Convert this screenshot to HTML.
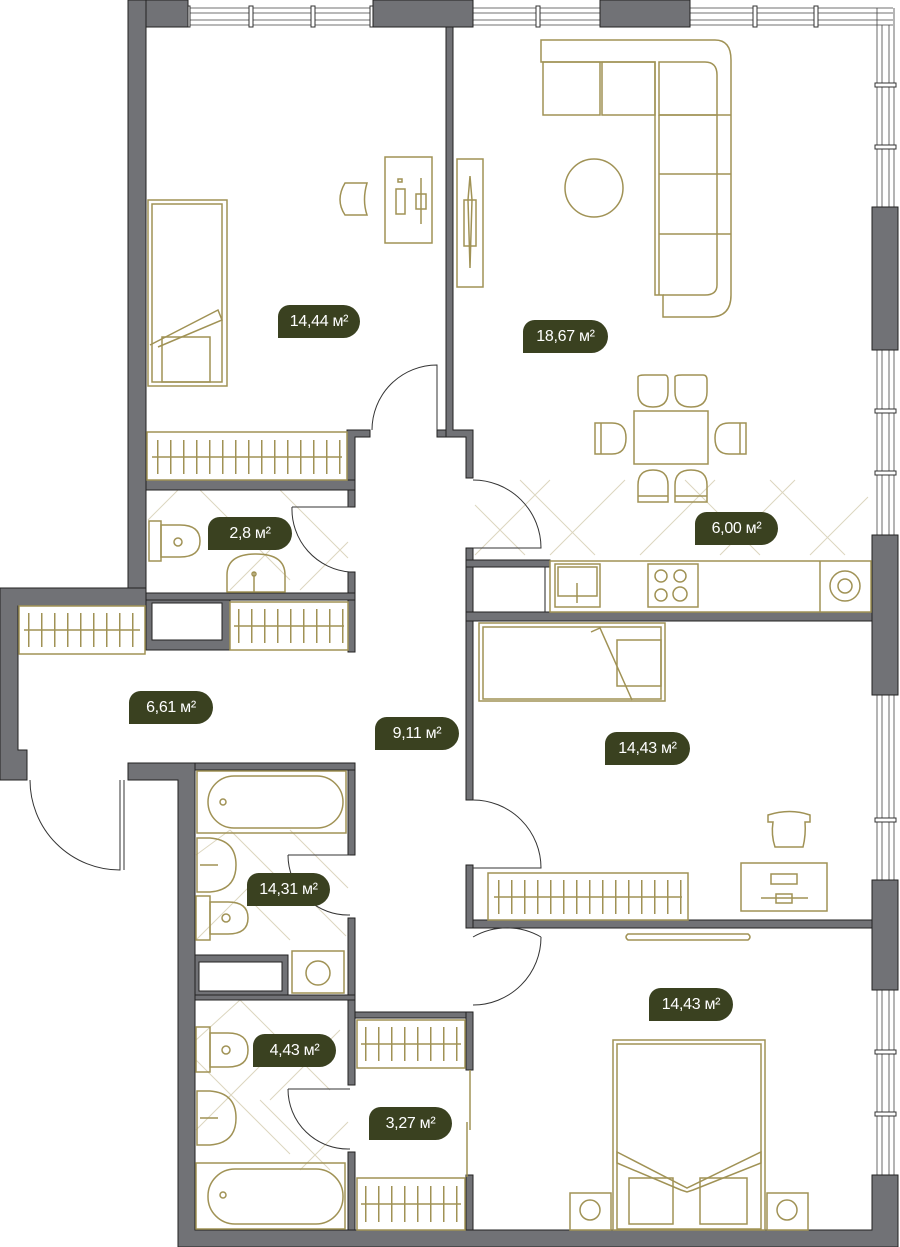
<!DOCTYPE html>
<html><head><meta charset="utf-8"><style>
html,body{margin:0;padding:0;background:#fff;}
#w{position:relative;width:900px;height:1247px;overflow:hidden;background:#fff;}
svg{position:absolute;left:0;top:0;}
.l{position:absolute;height:33px;background:#3a4120;color:#fff;font-family:"Liberation Sans",sans-serif;font-size:16px;line-height:33px;text-align:center;border-radius:12px 17px 17px 0;letter-spacing:-0.3px;}
</style></head><body><div id="w">
<svg width="900" height="1247" viewBox="0 0 900 1247">
<!-- tile diagonals -->
<g stroke="#dcd6bf" stroke-width="1" fill="none">
<path d="M475 555 L550 480 M520 480 L595 555 M550 555 L625 480 M640 555 L715 480 M685 480 L760 555 M720 555 L795 480 M770 480 L845 555 M810 555 L868 497 M475 505 L525 555"/>
<path d="M148 520 L178 490 M200 490 L290 580 M230 590 L290 530 M280 490 L348 558 M300 590 L348 542"/>
<path d="M196 855 L230 830 M230 830 L290 890 M290 830 L348 888 M196 940 L250 886 M250 900 L290 940 M310 900 L346 936"/>
<path d="M196 1040 L240 1000 M240 1000 L330 1090 M270 1100 L340 1030 M196 1130 L260 1066 M260 1100 L330 1170 M300 1170 L348 1122 M196 1060 L290 1154"/>
</g>
<!-- windows -->
<g stroke="#444" stroke-width="0.8" fill="none">
<path d="M188 8 H373 M188 13 H373 M188 20 H373 M188 25 H373"/>
<path d="M473 8 H600 M473 13 H600 M473 20 H600 M473 25 H600"/>
<path d="M690 8 H893 M690 13 H893 M690 20 H893 M690 25 H893"/>
<path d="M877 8 V1247 M882 25 V1247 M889 25 V1247 M894 8 V1247"/>
</g>
<g fill="#fff" stroke="#333" stroke-width="1">
<rect x="186" y="6" width="4" height="21"/><rect x="249" y="6" width="4" height="21"/><rect x="311" y="6" width="4" height="21"/><rect x="370" y="6" width="4" height="21"/>
<rect x="536" y="6" width="4" height="21"/><rect x="753" y="6" width="4" height="21"/><rect x="814" y="6" width="4" height="21"/>
<rect x="875" y="83" width="21" height="4"/><rect x="875" y="145" width="21" height="4"/><rect x="875" y="409" width="21" height="4"/><rect x="875" y="471" width="21" height="4"/>
<rect x="875" y="818" width="21" height="4"/><rect x="875" y="1050" width="21" height="4"/><rect x="875" y="1112" width="21" height="4"/>
</g>
<!-- walls -->
<g fill="#717276" stroke="#222" stroke-width="1">
<rect x="128" y="0" width="60" height="27"/>
<rect x="128" y="0" width="18" height="606"/>
<rect x="373" y="0" width="100" height="27"/>
<rect x="600" y="0" width="90" height="27"/>
<path d="M446 27 H453 V430 H473 V478 H466 V437 H446 Z"/>
<path d="M347 430 H370 V437 H355 V487 H347 Z"/>
<rect x="437" y="430" width="9" height="7"/>
<rect x="146" y="480" width="209" height="10"/>
<rect x="348" y="490" width="7" height="17"/>
<rect x="348" y="572" width="7" height="80"/>
<rect x="146" y="593" width="209" height="7"/>
<path d="M146 600 H230 V650 H146 Z M152 603 V640 H222 V603 Z" fill-rule="evenodd"/>
<path d="M0 588 H146 V606 H18 V750 H27 V780 H0 Z"/>
<path d="M128 763 H195 V1230 H872 V1175 H898 V1247 H178 V780 H128 Z"/>
<rect x="195" y="763" width="160" height="7"/>
<rect x="348" y="770" width="7" height="85"/>
<rect x="348" y="918" width="7" height="82"/>
<path d="M195 955 H288 V996 H195 Z M199 962 V991 H282 V962 Z" fill-rule="evenodd"/>
<rect x="195" y="995" width="160" height="5"/>
<rect x="348" y="1000" width="7" height="85"/>
<rect x="348" y="1152" width="7" height="78"/>
<rect x="355" y="1012" width="118" height="6"/>
<rect x="466" y="1012" width="7" height="58"/>
<rect x="466" y="1175" width="7" height="55"/>
<rect x="466" y="548" width="7" height="252"/>
<rect x="466" y="560" width="84" height="7"/>
<rect x="466" y="612" width="406" height="9"/>
<rect x="466" y="865" width="7" height="63"/>
<rect x="473" y="920" width="399" height="8"/>
<rect x="872" y="207" width="26" height="143"/>
<rect x="872" y="535" width="26" height="160"/>
<rect x="872" y="880" width="26" height="110"/>
</g>
<rect x="473" y="567" width="72" height="45" fill="#fff" stroke="#222"/>
<!-- doors -->
<g stroke="#333" stroke-width="1" fill="none">
<path d="M372 430 A65 65 0 0 1 437 365 V430"/>
<path d="M473 480 A68 68 0 0 1 541 548 H473"/>
<path d="M292 507 H350 M292 507 A63 63 0 0 0 350 572"/>
<path d="M30 780 A90 90 0 0 0 120 870 V780 M124 780 V870"/>
<path d="M473 800 A68 68 0 0 1 541 868 H473"/>
<path d="M473 937 A68 68 0 0 1 541 937 M541 937 A68 68 0 0 1 473 1005"/>
<path d="M288 855 H350 M288 855 A60 60 0 0 0 350 915"/>
<path d="M288 1089 H350 M288 1089 A60 60 0 0 0 350 1149"/>
</g>
<!-- wardrobes slats -->
<g stroke="#a09255" stroke-dasharray="1.5 11.5" fill="none">
<line x1="157" y1="457" x2="342" y2="457" stroke-width="34"/>
<line x1="28" y1="630" x2="140" y2="630" stroke-width="34"/>
<line x1="238" y1="626" x2="344" y2="626" stroke-width="34"/>
<line x1="498" y1="897" x2="682" y2="897" stroke-width="34"/>
<line x1="365" y1="1044" x2="461" y2="1044" stroke-width="34"/>
<line x1="365" y1="1204" x2="461" y2="1204" stroke-width="36"/>
</g>
<!-- furniture -->
<g stroke="#a09255" stroke-width="1.5" fill="none">
<rect x="147" y="432" width="200" height="48"/><line x1="152" y1="457" x2="342" y2="457"/>
<rect x="19" y="606" width="126" height="48"/><line x1="24" y1="630" x2="140" y2="630"/>
<rect x="230" y="602" width="118" height="48"/><line x1="234" y1="626" x2="344" y2="626"/>
<rect x="488" y="873" width="200" height="47"/><line x1="494" y1="897" x2="682" y2="897"/>
<rect x="357" y="1020" width="108" height="48"/><line x1="361" y1="1044" x2="461" y2="1044"/>
<rect x="357" y="1178" width="108" height="52"/><line x1="361" y1="1204" x2="461" y2="1204"/>
<line x1="470" y1="1070" x2="470" y2="1130"/><line x1="467" y1="1122" x2="467" y2="1177"/>
<!-- bedroom 1 -->
<rect x="148" y="200" width="79" height="186"/><rect x="152" y="204" width="70" height="178"/>
<path d="M150 345 L218 310 L222 320 L158 347"/><rect x="162" y="337" width="48" height="45"/>
<rect x="385" y="157" width="47" height="86"/><rect x="396" y="189" width="9" height="25"/><rect x="398" y="179" width="4" height="3"/><line x1="421" y1="178" x2="421" y2="224"/><rect x="416" y="194" width="10" height="15"/>
<path d="M345 183 Q335 200 345 215 L367 215 Q362 200 367 183 Z"/>
<!-- living -->
<rect x="457" y="159" width="26" height="128"/><path d="M470 176 L472 200 L470 268 L468 200 Z"/><rect x="464" y="200" width="12" height="46"/>
<path d="M541 40 H715 Q731 40 731 60 V295 Q731 317 710 317 H663 V295 H655 V62 H541 Z"/>
<path d="M543 62 H600 V115 H543 Z M602 62 H655 V115 H602 Z M659 62 H705 Q717 62 717 75 V115 H659 Z"/>
<path d="M659 115 H731 M659 174 H731 M659 234 H731 M717 115 V285 Q717 295 705 295 H663 M659 115 V295"/>
<circle cx="594" cy="188" r="29"/>
<rect x="634" y="411" width="74" height="53"/>
<path d="M638 377 Q638 375 645 375 H665 Q668 375 668 380 V392 Q668 407 653 407 Q638 407 638 392 Z"/>
<path d="M675 377 Q675 375 682 375 H703 Q707 375 707 380 V392 Q707 407 691 407 Q675 407 675 392 Z"/>
<path d="M638 502 V485 Q638 470 653 470 Q668 470 668 485 V502 Z M638 496 H668"/>
<path d="M675 502 V485 Q675 470 691 470 Q707 470 707 485 V502 Z M675 496 H707"/>
<path d="M595 423 H612 Q626 423 626 438 Q626 454 612 454 H595 Z M601 423 V454"/>
<path d="M746 423 H729 Q715 423 715 438 Q715 454 729 454 H746 Z M740 423 V454"/>
<!-- kitchen -->
<rect x="550" y="561" width="321" height="51"/><line x1="820" y1="561" x2="820" y2="612"/>
<rect x="555" y="564" width="45" height="43"/><rect x="558" y="567" width="39" height="29"/><line x1="577" y1="583" x2="577" y2="603"/>
<rect x="648" y="564" width="50" height="43"/><circle cx="661" cy="576" r="6"/><circle cx="680" cy="576" r="6"/><circle cx="661" cy="595" r="6"/><circle cx="680" cy="594" r="7"/>
<circle cx="845" cy="586" r="15"/><circle cx="845" cy="586" r="7"/>
<!-- bedroom 2 -->
<rect x="479" y="623" width="186" height="78"/><rect x="483" y="627" width="178" height="72"/>
<path d="M591 632 L600 628 L632 700"/><rect x="617" y="640" width="44" height="46"/>
<rect x="741" y="863" width="86" height="48"/><rect x="771" y="874" width="26" height="10"/><line x1="761" y1="898" x2="808" y2="898"/><rect x="776" y="894" width="16" height="9"/>
<path d="M768 815 Q790 808 810 815 V822 L805 822 Q806 835 803 847 H775 Q771 835 773 822 L768 822 Z"/>
<path d="M628 934 H748 Q752 937 748 940 H628 Q624 937 628 934 Z"/>
<!-- bedroom 3 -->
<rect x="613" y="1040" width="152" height="190"/><rect x="617" y="1044" width="144" height="185"/>
<path d="M617 1152 L687 1188 L761 1152 L761 1163 L693 1190 L687 1192 L681 1190 L617 1163 Z"/>
<rect x="629" y="1178" width="44" height="46"/><rect x="700" y="1178" width="47" height="46"/>
<rect x="570" y="1193" width="41" height="37"/><circle cx="590" cy="1210" r="10"/>
<rect x="767" y="1193" width="41" height="37"/><circle cx="787" cy="1210" r="10"/>
<!-- wc 2.8 -->
<rect x="149" y="521" width="12" height="40"/><path d="M161 525 H180 Q200 525 200 541 Q200 557 180 557 H161 Z"/><circle cx="178" cy="542" r="4"/>
<path d="M227 592 V575 Q227 554 256 554 Q285 554 285 575 V592 Z"/><line x1="254" y1="572" x2="254" y2="592"/><circle cx="254" cy="574" r="2"/>
<!-- bath 1 -->
<rect x="197" y="771" width="149" height="62"/><rect x="208" y="776" width="135" height="52" rx="26"/><circle cx="223" cy="802" r="3"/>
<path d="M197 838 H210 Q236 840 236 865 Q236 890 210 892 H197 Z"/><line x1="200" y1="865" x2="218" y2="865"/>
<rect x="196" y="896" width="14" height="44"/><path d="M210 902 H228 Q248 902 248 918 Q248 934 228 934 H210 Z"/><circle cx="226" cy="918" r="4"/>
<rect x="292" y="951" width="52" height="42"/><circle cx="318" cy="973" r="12"/>
<!-- bath 2 -->
<rect x="196" y="1027" width="14" height="45"/><path d="M210 1033 H228 Q248 1033 248 1050 Q248 1067 228 1067 H210 Z"/><circle cx="226" cy="1050" r="4"/>
<path d="M197 1091 H210 Q236 1093 236 1118 Q236 1143 210 1145 H197 Z"/><line x1="200" y1="1118" x2="218" y2="1118"/>
<rect x="196" y="1163" width="149" height="66"/><rect x="208" y="1169" width="135" height="55" rx="27"/><circle cx="223" cy="1195" r="3"/>
</g>
</svg>
<div class="l" style="left:278px;top:305px;width:82px;">14,44 м²</div>
<div class="l" style="left:523px;top:320px;width:85px;">18,67 м²</div>
<div class="l" style="left:208px;top:517px;width:84px;">2,8 м²</div>
<div class="l" style="left:695px;top:512px;width:83px;">6,00 м²</div>
<div class="l" style="left:129px;top:691px;width:84px;">6,61 м²</div>
<div class="l" style="left:375px;top:717px;width:84px;">9,11 м²</div>
<div class="l" style="left:605px;top:732px;width:85px;">14,43 м²</div>
<div class="l" style="left:247px;top:873px;width:83px;">14,31 м²</div>
<div class="l" style="left:649px;top:988px;width:84px;">14,43 м²</div>
<div class="l" style="left:253px;top:1034px;width:83px;">4,43 м²</div>
<div class="l" style="left:369px;top:1107px;width:83px;">3,27 м²</div>
</div></body></html>
